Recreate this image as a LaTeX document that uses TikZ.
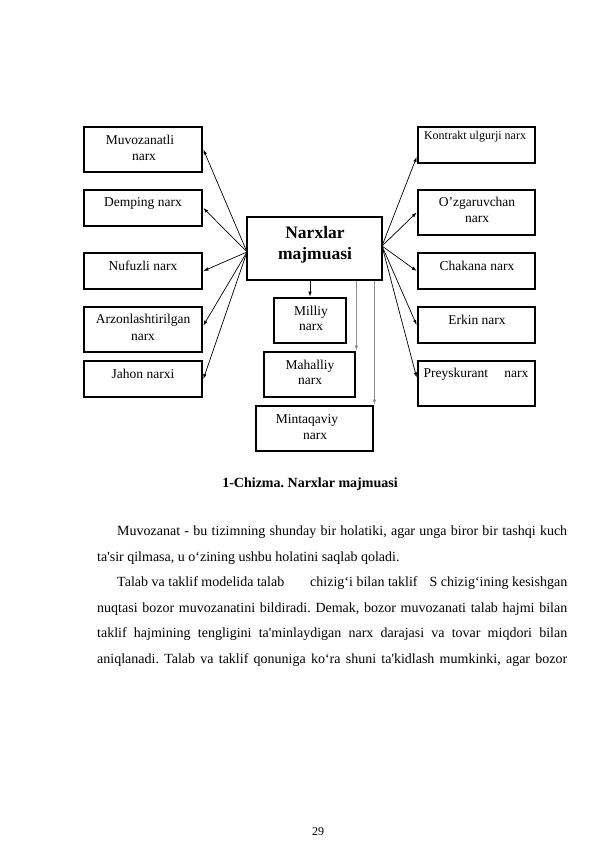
\documentclass[tikz,border=0pt]{standalone}
\usepackage{fontspec}
\setmainfont{Liberation Serif}
\usetikzlibrary{arrows.meta,calc}
\newcommand\boxfont{\fontsize{13.5}{15}\selectfont}
\newcommand\smallboxfont{\fontsize{12}{13}\selectfont}
\newcommand\hubfont{\fontsize{17.5}{20}\selectfont\bfseries}
\newcommand\bodyfont{\fontsize{14}{16}\selectfont}
\frenchspacing
\begin{document}
\begin{tikzpicture}[x=1pt,y=-1pt,
  bx/.style={draw,line width=2.7pt,inner sep=0pt},
  tx/.style={inner sep=0pt,font=\boxfont},
  arr/.style={line width=0.7pt,-{Latex[length=5pt,width=3.5pt]}},
  garr/.style={line width=1.3pt,draw=gray!90,-{Latex[length=5pt,width=3.8pt]}},
  ln/.style={inner sep=0pt,anchor=base west,font=\bodyfont}]
\useasboundingbox (0,0) rectangle (595,842);
% left column
\node[bx,minimum width=118pt,minimum height=45pt] (muv) at (143,149.5) {};
\node[bx,minimum width=118pt,minimum height=36pt] (dem) at (143,208) {};
\node[bx,minimum width=118pt,minimum height=36pt] (nuf) at (143,271) {};
\node[bx,minimum width=118pt,minimum height=45pt] (arz) at (143,329.5) {};
\node[bx,minimum width=118pt,minimum height=36pt] (jah) at (143,379) {};
% centre
\node[bx,minimum width=135pt,minimum height=63pt] (hub) at (314.5,248.5) {};
\node[bx,minimum width=72pt,minimum height=45pt] (mil) at (310,320.5) {};
\node[bx,minimum width=91pt,minimum height=45pt] (mah) at (309.5,374.5) {};
\node[bx,minimum width=117pt,minimum height=45pt] (mnt) at (314.5,428.5) {};
% right column
\node[bx,minimum width=117pt,minimum height=36pt] (kon) at (476.5,145) {};
\node[bx,minimum width=117pt,minimum height=45pt] (ozg) at (476.5,212.5) {};
\node[bx,minimum width=117pt,minimum height=36pt] (cha) at (476.5,271) {};
\node[bx,minimum width=117pt,minimum height=36pt] (erk) at (476.5,325) {};
\node[bx,minimum width=117pt,minimum height=45pt] (pre) at (476.5,383.5) {};
% texts
\node[tx] (tmuv1) at (140,140) {Muvozanatli};
\node[tx] (tmuv2) at (144,157) {narx};
\node[tx] (tdem) at (143,203) {Demping narx};
\node[tx] (tnuf) at (143,266) {Nufuzli narx};
\node[tx] (tarz1) at (143,320) {Arzonlashtirilgan};
\node[tx] (tarz2) at (143,337) {narx};
\node[tx] (tjah) at (143,374) {Jahon narxi};
\node[inner sep=0pt,font=\hubfont] (thub1) at (315,233) {Narxlar};
\node[inner sep=0pt,font=\hubfont] (thub2) at (315,255) {majmuasi};
\node[tx] (tmil1) at (311,312) {Milliy};
\node[tx] (tmil2) at (311,327) {narx};
\node[tx] (tmah1) at (310,366) {Mahalliy};
\node[tx] (tmah2) at (310,381) {narx};
\node[tx] (tmnt1) at (307,420) {Mintaqaviy};
\node[tx] (tmnt2) at (315,436) {narx};
\node[tx,font=\smallboxfont] (tkon) at (475,137) {Kontrakt ulgurji narx};
\node[tx] (tozg1) at (477,203) {O’zgaruvchan};
\node[tx] (tozg2) at (477,219) {narx};
\node[tx] (tcha) at (477,266) {Chakana narx};
\node[tx] (terk) at (477,320) {Erkin narx};
\node[tx] (tpre) at (476,374) {Preyskurant\hspace{1.2em}narx};
% connectors
\coordinate (hl) at (247,252);
\coordinate (hr) at (382,246);
\draw[arr] (hl) -- (muv.east);
\draw[arr] (hl) -- (dem.east);
\draw[arr] (hl) -- (nuf.east);
\draw[arr] (hl) -- ([yshift=4pt]arz.east);
\draw[arr] (hl) -- (jah.east);
\draw[arr] (hr) -- ([yshift=-12pt]kon.west);
\draw[arr] (hr) -- (ozg.west);
\draw[arr] (hr) -- (cha.west);
\draw[arr] (hr) -- (erk.west);
\draw[arr] (hr) -- ([yshift=6pt]pre.west);
\draw[arr] (mil.north |- hub.south) -- (mil.north);
\draw[garr] (mah.north east |- hub.south) -- (mah.north east);
\draw[garr] (mnt.north east |- hub.south) -- (mnt.north east);
% caption
\node[inner sep=0pt,font=\bodyfont\bfseries] (cap) at (310,484) {1-Chizma. Narxlar majmuasi};
% paragraph
\node[ln] (l1) at (117,535) {\makebox[450pt][s]{Muvozanat - bu tizimning shunday bir holatiki, agar unga biror bir tashqi kuch}};
\node[ln] (l2) at (97,561) {ta\textquotesingle sir qilmasa, u o‘zining ushbu holatini saqlab qoladi.};
\node[ln] (l3) at (117,586) {\makebox[450pt][s]{Talab va taklif modelida talab\hspace{1.6em} chizig‘i bilan taklif\hspace{0.6em} S chizig‘ining kesishgan}};
\node[ln] (l4) at (97,612) {\makebox[470pt][s]{nuqtasi bozor muvozanatini bildiradi. Demak, bozor muvozanati talab hajmi bilan}};
\node[ln] (l5) at (97,637) {\makebox[470pt][s]{taklif hajmining tengligini ta\textquotesingle minlaydigan narx darajasi va tovar miqdori bilan}};
\node[ln] (l6) at (97,663) {\makebox[470pt][s]{aniqlanadi. Talab va taklif qonuniga ko‘ra shuni ta\textquotesingle kidlash mumkinki, agar bozor}};
\node[inner sep=0pt,font=\fontsize{12}{14}\selectfont] (pg) at (318,832) {29};
\end{tikzpicture}
\end{document}
